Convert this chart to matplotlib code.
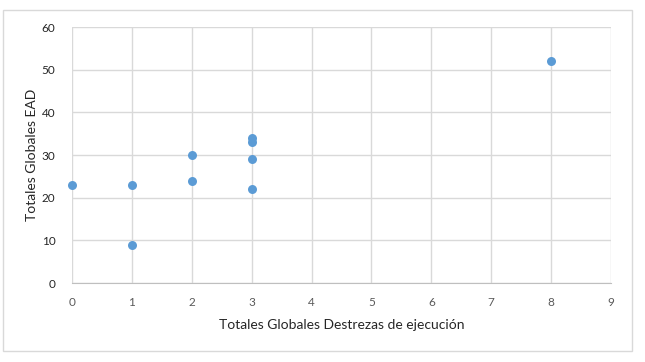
import matplotlib.pyplot as plt
from matplotlib.patches import Rectangle

# data
destrezas = [0, 1, 1, 2, 2, 3, 3, 3, 3, 8]
ead = [23, 23, 9, 30, 24, 34, 33, 29, 22, 52]
xticks = list(range(0, 10))
yticks = list(range(0, 61, 10))

plt.rcParams['font.family'] = ['Lato', 'DejaVu Sans']

fig = plt.figure(figsize=(6.45, 3.62), dpi=100)
ax = fig.add_axes([72/645, 1-283/362, (611-72)/645, (283-27)/362])

# outer chart border
fig.patches.append(Rectangle((3/645, 1-351/362), 629/645, 341/362, transform=fig.transFigure,
                             fill=False, edgecolor='#d9d9d9', linewidth=1))

ax.scatter(destrezas, ead, s=42, color='#5b9bd5', zorder=3, linewidths=0, clip_on=False)

ax.set_xlim(0, 9)
ax.set_ylim(0, 60)
ax.set_xticks(xticks)
ax.set_yticks(yticks)
ax.grid(True, color='#d9d9d9', linewidth=1)
ax.set_axisbelow(True)
for s in ['top', 'right', 'left']:
    ax.spines[s].set_visible(False)
ax.spines['bottom'].set_color('#bfbfbf')
ax.tick_params(length=0)
ax.tick_params(axis='x', pad=10, labelsize=8.5, labelcolor='#595959')
ax.tick_params(axis='y', pad=12, labelsize=8.5, labelcolor='#262626')

ax.set_xlabel('Totales Globales Destrezas de ejecución', fontsize=10, color='#262626', labelpad=8)
ax.set_ylabel('Totales Globales EAD', fontsize=10, color='#262626')
ax.yaxis.set_label_coords(-34/539, 0.5)

fig.savefig('out.png', dpi=100)
